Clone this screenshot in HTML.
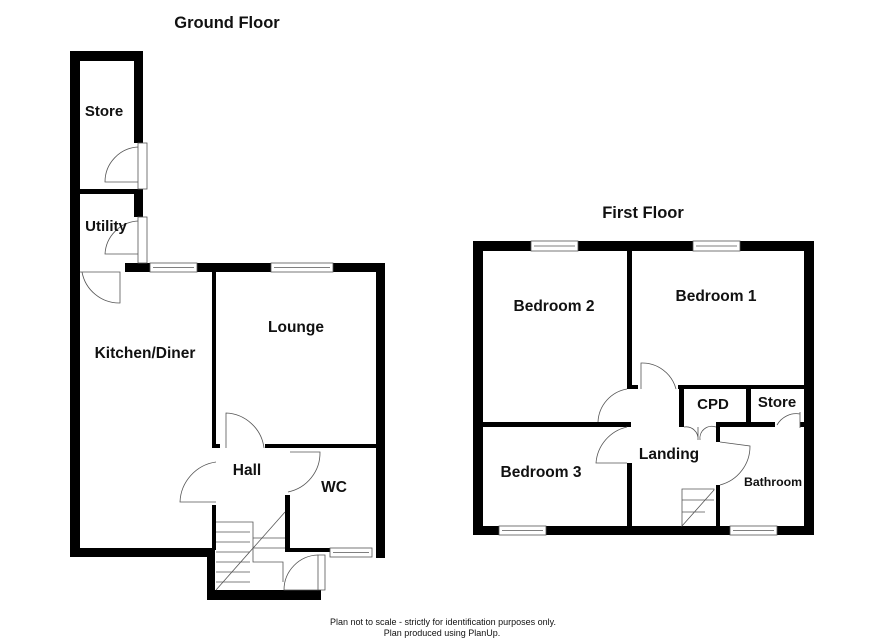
<!DOCTYPE html>
<html><head><style>
html,body{margin:0;padding:0;background:#fff}
svg{display:block}
text{font-family:"Liberation Sans",Arial,sans-serif;font-weight:bold;fill:#111}
</style></head><body>
<svg width="886" height="644" viewBox="0 0 886 644" xmlns="http://www.w3.org/2000/svg">
<g fill="#000">
<rect x="70" y="51" width="10" height="506"/>
<rect x="70" y="51" width="73" height="10"/>
<rect x="134" y="51" width="9" height="92"/>
<rect x="80" y="189" width="56" height="5"/>
<rect x="134" y="189" width="9" height="28"/>
<rect x="125" y="263" width="25" height="9"/>
<rect x="197" y="263" width="74" height="9"/>
<rect x="333" y="263" width="52" height="9"/>
<rect x="376" y="263" width="9" height="295"/>
<rect x="212" y="272" width="4" height="176"/>
<rect x="265" y="444" width="111" height="4"/>
<rect x="212" y="444" width="8" height="4"/>
<rect x="212" y="505" width="4" height="45"/>
<rect x="285" y="495" width="5" height="55"/>
<rect x="285" y="548" width="45" height="4"/>
<rect x="70" y="548" width="145" height="9"/>
<rect x="207" y="548" width="8" height="52"/>
<rect x="207" y="590" width="114" height="10"/>
<rect x="473" y="241" width="58" height="10"/>
<rect x="578" y="241" width="115" height="10"/>
<rect x="740" y="241" width="74" height="10"/>
<rect x="473" y="241" width="10" height="294"/>
<rect x="804" y="241" width="10" height="294"/>
<rect x="473" y="526" width="26" height="9"/>
<rect x="546" y="526" width="184" height="9"/>
<rect x="777" y="526" width="37" height="9"/>
<rect x="627" y="251" width="5" height="136"/>
<rect x="627" y="385" width="11" height="4"/>
<rect x="678" y="385" width="126" height="4"/>
<rect x="679" y="389" width="5" height="38"/>
<rect x="746" y="389" width="5" height="35"/>
<rect x="716" y="422" width="59" height="5"/>
<rect x="800" y="422" width="5" height="5"/>
<rect x="716" y="422" width="4" height="20"/>
<rect x="716" y="485" width="4" height="41"/>
<rect x="483" y="422" width="148" height="5"/>
<rect x="627" y="463" width="5" height="63"/>
</g>
<g fill="none" stroke="#555" stroke-width="0.8">
<rect x="150" y="263" width="47" height="9"/><line x1="153" y1="267.5" x2="194" y2="267.5"/>
<rect x="271" y="263" width="62" height="9"/><line x1="274" y1="267.5" x2="330" y2="267.5"/>
<rect x="330" y="548" width="42" height="9"/><line x1="333" y1="552.5" x2="369" y2="552.5"/>
<rect x="138" y="143" width="9" height="46"/>
<path d="M138 147 A35 35 0 0 0 105 182 L138 182"/>
<rect x="138" y="217" width="9" height="46"/>
<path d="M138 221 A35 35 0 0 0 105 254 L138 254"/>
<path d="M80 272 L120 272 L120 303 A38 38 0 0 1 82 272"/>
<path d="M226 448 L226 413 A40 40 0 0 1 264 448"/>
<path d="M216 462 A42 42 0 0 0 180 502 L216 502"/>
<path d="M290 452 L320 452 A40 40 0 0 1 288 492"/>
<path d="M318 555 L325 555 L325 590 L318 590 Z"/>
<path d="M318 555 A35 35 0 0 0 284 590 L318 590"/>
<path d="M216 522 L253 522 L253 562 L283 562 L283 582"/>
<path d="M216 532 L250 532 M216 542 L250 542 M216 552 L250 552 M216 562 L250 562 M216 572 L250 572 M216 582 L250 582"/>
<path d="M253 538 L285 538 M253 548 L285 548"/>
<path d="M216 590 L285 512"/>
<rect x="531" y="241" width="47" height="10"/><line x1="534" y1="246" x2="575" y2="246"/>
<rect x="693" y="241" width="47" height="10"/><line x1="696" y1="246" x2="737" y2="246"/>
<rect x="499" y="526" width="47" height="9"/><line x1="502" y1="530.5" x2="543" y2="530.5"/>
<rect x="730" y="526" width="47" height="9"/><line x1="733" y1="530.5" x2="774" y2="530.5"/>
<path d="M641 389 L641 363 A35 35 0 0 1 676 389"/>
<path d="M627 389 A35 35 0 0 0 598 422"/>
<path d="M627 427 A40 40 0 0 0 596 463 L627 463"/>
<path d="M684 427 A12 12 0 0 1 698 440 L698 427 M716 427 A12 12 0 0 0 700 440"/>
<path d="M720 442 L750 446 A40 40 0 0 1 720 485"/>
<path d="M800 412 L800 428 M800 414 A22 22 0 0 0 777 425"/>
<path d="M682 489 L682 526 L714 490 L714 489 Z M682 500 L714 500 M682 512 L705 512"/>
</g>
<text x="227" y="28" font-size="16.5" text-anchor="middle">Ground Floor</text>
<text x="643" y="218" font-size="16.5" text-anchor="middle">First Floor</text>
<text x="104" y="116" font-size="15" text-anchor="middle">Store</text>
<text x="106" y="231" font-size="15" text-anchor="middle">Utility</text>
<text x="145" y="358" font-size="15.5" text-anchor="middle">Kitchen/Diner</text>
<text x="296" y="332" font-size="15.5" text-anchor="middle">Lounge</text>
<text x="247" y="475" font-size="15.5" text-anchor="middle">Hall</text>
<text x="334" y="492" font-size="15.5" text-anchor="middle">WC</text>
<text x="554" y="311" font-size="15.5" text-anchor="middle">Bedroom 2</text>
<text x="716" y="301" font-size="15.5" text-anchor="middle">Bedroom 1</text>
<text x="541" y="477" font-size="15.5" text-anchor="middle">Bedroom 3</text>
<text x="669" y="459" font-size="15.5" text-anchor="middle">Landing</text>
<text x="713" y="409" font-size="15" text-anchor="middle">CPD</text>
<text x="777" y="407" font-size="15" text-anchor="middle">Store</text>
<text x="773" y="486" font-size="12.3" text-anchor="middle">Bathroom</text>
<text x="443" y="625" font-size="9" text-anchor="middle" style="font-weight:normal">Plan not to scale - strictly for identification purposes only.</text>
<text x="442" y="636" font-size="9" text-anchor="middle" style="font-weight:normal">Plan produced using PlanUp.</text>
</svg>
</body></html>
